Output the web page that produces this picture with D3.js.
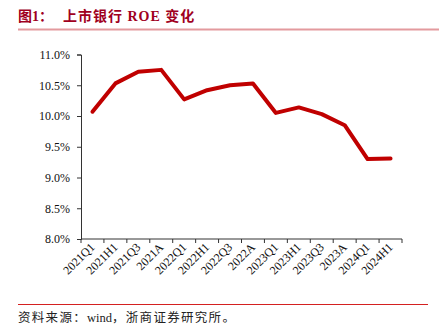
<!DOCTYPE html>
<html>
<head>
<meta charset="utf-8">
<script src="https://cdn.jsdelivr.net/npm/d3@7/dist/d3.min.js"></script>
<style>
  html, body { margin: 0; padding: 0; background: #fff; }
  svg { display: block; }
</style>
</head>
<body>
<svg id="chart" width="439" height="331"></svg>
<script>
// Listed banks ROE by reporting period (%)
const periods = ["2021Q1","2021H1","2021Q3","2021A","2022Q1","2022H1","2022Q3","2022A",
                 "2023Q1","2023H1","2023Q3","2023A","2024Q1","2024H1"];
const roe = [10.07, 10.53, 10.72, 10.75, 10.27, 10.42, 10.50, 10.53,
             10.05, 10.14, 10.03, 9.85, 9.30, 9.31];
const yTicks = [8.0, 8.5, 9.0, 9.5, 10.0, 10.5, 11.0];

const svg = d3.select("#chart");
const serif = "'Liberation Serif', 'Times New Roman', 'Noto Sans CJK SC', serif";

// Title: figure number, then caption
const titleColor = "#a0001e";
svg.append("text")
  .attr("x", 18).attr("y", 21)
  .attr("fill", titleColor)
  .style("font-family", serif)
  .style("font-size", "14px")
  .style("font-weight", "bold")
  .text("图1：");
svg.append("text")
  .attr("x", 63).attr("y", 21)
  .attr("fill", titleColor)
  .style("font-family", serif)
  .style("font-size", "14px")
  .style("font-weight", "bold")
  .style("letter-spacing", "1px")
  .text("上市银行 ROE 变化");

svg.append("line")
  .attr("x1", 18).attr("x2", 439).attr("y1", 29.5).attr("y2", 29.5)
  .attr("stroke", "#e39a9e").attr("stroke-width", 2);

// Plot area
const plotLeft = 81, plotRight = 402, plotTop = 54.5, plotBottom = 239;

const x = d3.scaleBand().domain(periods).range([plotLeft, plotRight]);
const y = d3.scaleLinear().domain([8, 11]).range([plotBottom, plotTop]);

const yAxis = d3.axisLeft(y)
  .tickValues(yTicks)
  .tickFormat(d => d3.format(".1f")(d) + "%")
  .tickSize(4).tickPadding(7);

const gy = svg.append("g").attr("transform", `translate(${plotLeft},0)`).call(yAxis);
gy.select(".domain").attr("stroke", "#333");
gy.selectAll(".tick line").attr("stroke", "#333");
gy.selectAll("text").attr("fill", "#111")
  .style("font-family", serif).style("font-size", "12px");

const xAxis = d3.axisBottom(x).tickSize(0).tickFormat(d => d);
const gx = svg.append("g").attr("transform", `translate(0,${plotBottom})`).call(xAxis);
gx.select(".domain").attr("stroke", "#333").attr("d", `M${plotLeft},0H${plotRight}`);
gx.selectAll(".tick line").remove();
gx.selectAll(".tick text")
  .attr("fill", "#111")
  .style("font-family", serif).style("font-size", "12px")
  .attr("text-anchor", "end")
  .attr("dy", null).attr("y", 0)
  .attr("transform", "translate(3,9) rotate(-45)");

// Tick marks on band boundaries
const bounds = periods.map(p => x(p)).concat([plotRight]);
svg.append("g").selectAll("line").data(bounds).join("line")
  .attr("x1", d => d).attr("x2", d => d)
  .attr("y1", plotBottom).attr("y2", plotBottom + 4)
  .attr("stroke", "#333");

// ROE line
const line = d3.line()
  .x((d, i) => x(periods[i]) + x.bandwidth() / 2)
  .y(d => y(d));

svg.append("path")
  .datum(roe)
  .attr("d", line)
  .attr("fill", "none")
  .attr("stroke", "#c00000")
  .attr("stroke-width", 4)
  .attr("stroke-linejoin", "round")
  .attr("stroke-linecap", "round");

// Source note
svg.append("line")
  .attr("x1", 18).attr("x2", 428).attr("y1", 304.5).attr("y2", 304.5)
  .attr("stroke", "#d42020").attr("stroke-width", 1);

const note = svg.append("text")
  .attr("x", 18).attr("y", 322)
  .attr("fill", "#222")
  .style("font-family", serif)
  .style("font-size", "12.5px");
note.append("tspan").style("letter-spacing", "1.3px").text("资料来源：");
note.append("tspan").text("wind");
note.append("tspan").style("letter-spacing", "1.3px").text("，浙商证券研究所。");
</script>
</body>
</html>
